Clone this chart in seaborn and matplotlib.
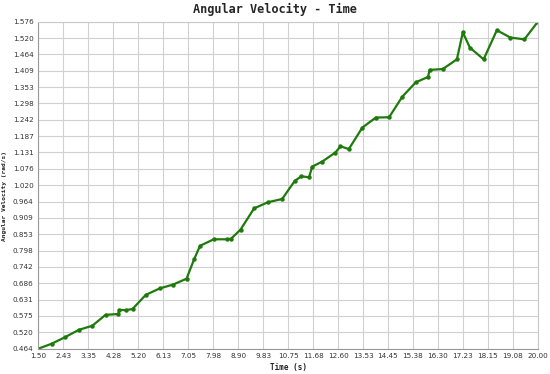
import pandas as pd
import seaborn as sns
import matplotlib.pyplot as plt

# values
time = [1.50, 2.00, 2.49, 3.00, 3.50, 3.99, 4.47, 4.49, 4.74, 4.99, 5.48, 6.00, 6.49, 6.99,
        7.27, 7.49, 8.00, 8.49, 8.64, 8.99, 9.49, 10.00, 10.53, 11.00, 11.24, 11.53, 11.64,
        12.01, 12.50, 12.69, 13.00, 13.50, 14.00, 14.49, 14.98, 15.48, 15.93, 15.99, 16.48,
        17.00, 17.22, 17.48, 17.99, 18.48, 18.98, 19.50, 20.00]
omega = [0.464, 0.481, 0.503, 0.528, 0.542, 0.579, 0.582, 0.596, 0.595, 0.599, 0.647, 0.669,
         0.682, 0.702, 0.768, 0.814, 0.836, 0.836, 0.838, 0.869, 0.941, 0.962, 0.973, 1.035,
         1.050, 1.047, 1.083, 1.100, 1.131, 1.152, 1.143, 1.216, 1.250, 1.251, 1.321, 1.370,
         1.388, 1.412, 1.415, 1.448, 1.540, 1.488, 1.448, 1.547, 1.522, 1.516, 1.576]

x_ticks = ["1.50", "2.43", "3.35", "4.28", "5.20", "6.13", "7.05", "7.98", "8.90", "9.83", "10.75",
           "11.68", "12.60", "13.53", "14.45", "15.38", "16.30", "17.23", "18.15", "19.08", "20.00"]
y_ticks = ["0.464", "0.520", "0.575", "0.631", "0.686", "0.742", "0.798", "0.853", "0.909", "0.964",
           "1.020", "1.076", "1.131", "1.187", "1.242", "1.298", "1.353", "1.409", "1.464", "1.520",
           "1.576"]

df = pd.DataFrame({"time": time, "omega": omega})

sns.set_style("white")
fig = plt.figure(figsize=(5.5, 3.74), dpi=100)
ax = fig.add_axes([0.0696, 0.0677, 0.9084, 0.8743])

sns.lineplot(data=df, x="time", y="omega", sort=False, estimator=None, color="#1f7a0c",
             linewidth=1.6, marker="o", markersize=3.2, markeredgewidth=0, ax=ax)

xt = [1.5 + i * 18.5 / 20 for i in range(21)]
yt = [0.464 + i * 1.112 / 20 for i in range(21)]
ax.set_xticks(xt)
ax.set_xticklabels(x_ticks)
ax.set_yticks(yt)
ax.set_yticklabels(y_ticks)
ax.set_xlim(1.5, 20.0)
ax.set_ylim(0.464, 1.576)
ax.tick_params(axis="both", labelsize=5.2, colors="#333333", length=2.5, width=0.6, pad=1)
ax.tick_params(axis="x", length=0, pad=3)
ax.grid(True, color="#d0d0d0", linewidth=0.8)
for s in ax.spines.values():
    s.set_color("#c8c8c8")
    s.set_linewidth(0.8)
ax.spines["left"].set_color("#999999")
ax.spines["bottom"].set_color("#999999")

fig.suptitle("Angular Velocity - Time", x=0.5, y=0.976, va="center", fontsize=8.6,
             fontweight="bold", family="DejaVu Sans Mono")
ax.set_xlabel("Time (s)", fontsize=5.5, fontweight="bold", family="DejaVu Sans Mono", labelpad=3)
ax.set_ylabel("Angular Velocity (rad/s)", fontsize=4.5, fontweight="bold",
              family="DejaVu Sans Mono")
ax.yaxis.set_label_coords(-0.062, 0.467)

plt.savefig("out.png", dpi=100)
